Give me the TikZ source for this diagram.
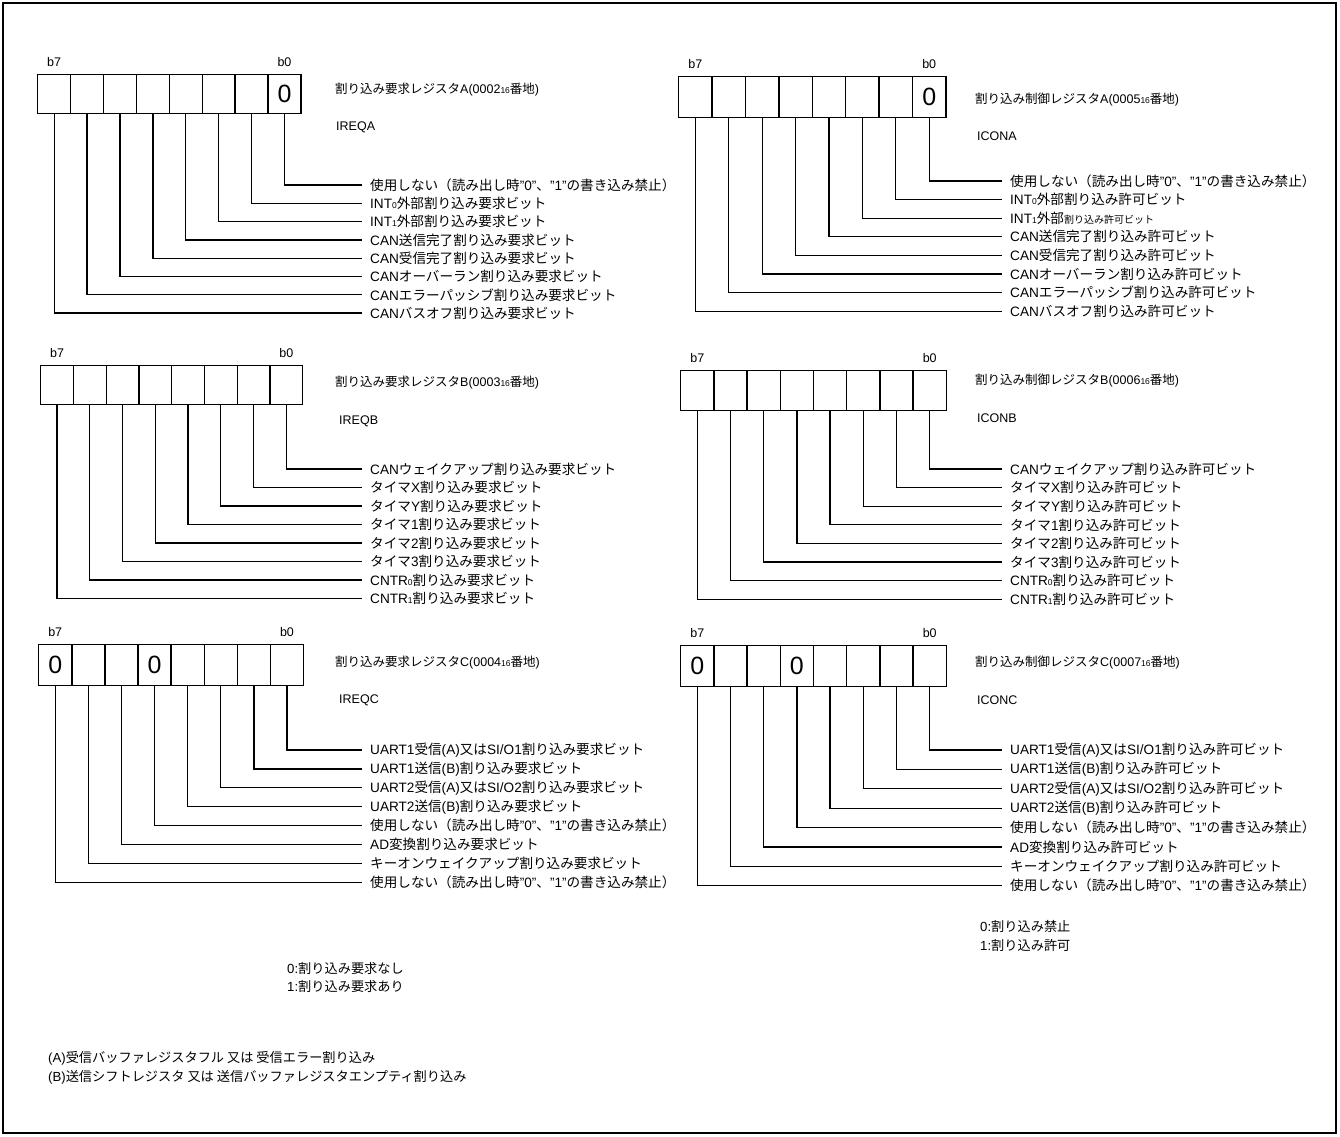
\documentclass[tikz,border=0pt]{standalone}
\usepackage{fontspec}
\setmainfont{Liberation Sans}
\newfontfamily\jpfont{Noto Sans CJK JP}
\newXeTeXintercharclass\jpclass
\newcount\jpc
\newcommand\jprange[2]{\jpc=#1\relax\loop\XeTeXcharclass\jpc=\jpclass\relax\ifnum\jpc<#2\relax\advance\jpc by 1\relax\repeat}
\jprange{"3000}{"30FF}
\jprange{"4E00}{"9FFF}
\jprange{"FF00}{"FFEF}
\XeTeXinterchartoks 0 \jpclass = {\jpfont}
\XeTeXinterchartoks 4095 \jpclass = {\jpfont}
\XeTeXinterchartoks \jpclass 0 = {\rmfamily}
\XeTeXinterchartokenstate=1
\newcommand\smalld[1]{{\fontsize{8.5}{8.5}\selectfont #1}}
\def\celltn{}
\def\celltz{0}
\tikzset{
  cell/.style={draw, line width=1.4pt, inner sep=0pt, font=\fontsize{25}{25}\selectfont},
  bitlab/.style={inner sep=0pt, font=\fontsize{12.5}{14}\selectfont},
  lab/.style={anchor=west, inner xsep=8pt, inner ysep=0pt, font=\fontsize{13.6}{15}\selectfont},
  regtitle/.style={anchor=west, inner sep=0pt, font=\fontsize{12.5}{15}\selectfont},
  note/.style={anchor=west, inner sep=0pt, font=\fontsize{13.2}{15}\selectfont},
  conn/.style={line width=1.3pt}
}
\newcommand\register[6]{%
  \foreach \t [count=\i from 0] in {#6} {
    \node[cell, minimum width=#4pt, minimum height=#5pt, anchor=north west] (#1c\i) at ({#2+\i*#4},#3) {\csname cellt\t\endcsname};
  }
  \node[bitlab] (#1b7) at ([yshift=12pt]#1c0.north) {b7};
  \node[bitlab] (#1b0) at ([yshift=12pt]#1c7.north) {b0};
}
\newcommand\leads[5]{%
  \foreach \t [count=\k from 0] in {#5} {
    \pgfmathtruncatemacro\j{7-\k}
    \node[lab] (#1l\k) at ({#2},{#3+\k*#4}) {\t};
    \draw[conn] (#1c\j.south) |- (#1l\k.west);
  }
}
\begin{document}
\begin{tikzpicture}[x=1pt,y=-1pt]
\useasboundingbox (0,0) rectangle (1340,1136);
\draw[line width=1.5pt] (3,3) rectangle (1336,1133);

% ---------- Register A ----------
\register{LA}{37}{74}{32.9}{39}{n,n,n,n,n,n,n,z}
\node[regtitle] (LAt) at (335,90) {割り込み要求レジスタA(0002\smalld{16}番地)};
\node[regtitle] (LAn) at (336,127) {IREQA};
\leads{LA}{362}{185}{18.3}{{使用しない（読み出し時"0"、"1"の書き込み禁止）},
 {INT\smalld{0}外部割り込み要求ビット},
 {INT\smalld{1}外部割り込み要求ビット},
 {CAN送信完了割り込み要求ビット},
 {CAN受信完了割り込み要求ビット},
 {CANオーバーラン割り込み要求ビット},
 {CANエラーパッシブ割り込み要求ビット},
 {CANバスオフ割り込み要求ビット}}

\register{RA}{678}{76}{33.4}{41}{n,n,n,n,n,n,n,z}
\node[regtitle] (RAt) at (975,100) {割り込み制御レジスタA(0005\smalld{16}番地)};
\node[regtitle] (RAn) at (977,136) {ICONA};
\leads{RA}{1002}{181}{18.6}{{使用しない（読み出し時"0"、"1"の書き込み禁止）},
 {INT\smalld{0}外部割り込み許可ビット},
 {INT\smalld{1}外部{\fontsize{10}{10}\selectfont 割り込み許可ビット}},
 {CAN送信完了割り込み許可ビット},
 {CAN受信完了割り込み許可ビット},
 {CANオーバーラン割り込み許可ビット},
 {CANエラーパッシブ割り込み許可ビット},
 {CANバスオフ割り込み許可ビット}}

% ---------- Register B ----------
\register{LB}{40}{365}{32.75}{39}{n,n,n,n,n,n,n,n}
\node[regtitle] (LBt) at (335,383) {割り込み要求レジスタB(0003\smalld{16}番地)};
\node[regtitle] (LBn) at (339,421) {IREQB};
\leads{LB}{362}{469}{18.5}{{CANウェイクアップ割り込み要求ビット},
 {タイマX割り込み要求ビット},
 {タイマY割り込み要求ビット},
 {タイマ1割り込み要求ビット},
 {タイマ2割り込み要求ビット},
 {タイマ3割り込み要求ビット},
 {CNTR\smalld{0}割り込み要求ビット},
 {CNTR\smalld{1}割り込み要求ビット}}

\register{RB}{680}{370}{33.2}{40}{n,n,n,n,n,n,n,n}
\node[regtitle] (RBt) at (975,381) {割り込み制御レジスタB(0006\smalld{16}番地)};
\node[regtitle] (RBn) at (977,418) {ICONB};
\leads{RB}{1002}{469}{18.6}{{CANウェイクアップ割り込み許可ビット},
 {タイマX割り込み許可ビット},
 {タイマY割り込み許可ビット},
 {タイマ1割り込み許可ビット},
 {タイマ2割り込み許可ビット},
 {タイマ3割り込み許可ビット},
 {CNTR\smalld{0}割り込み許可ビット},
 {CNTR\smalld{1}割り込み許可ビット}}

% ---------- Register C ----------
\register{LC}{38}{644}{33.1}{41}{z,n,n,z,n,n,n,n}
\node[regtitle] (LCt) at (335,663) {割り込み要求レジスタC(0004\smalld{16}番地)};
\node[regtitle] (LCn) at (339,700) {IREQC};
\leads{LC}{362}{750}{18.9}{{UART1受信(A)又はSI/O1割り込み要求ビット},
 {UART1送信(B)割り込み要求ビット},
 {UART2受信(A)又はSI/O2割り込み要求ビット},
 {UART2送信(B)割り込み要求ビット},
 {使用しない（読み出し時"0"、"1"の書き込み禁止）},
 {AD変換割り込み要求ビット},
 {キーオンウェイクアップ割り込み要求ビット},
 {使用しない（読み出し時"0"、"1"の書き込み禁止）}}

\register{RC}{680}{645}{33.2}{41}{z,n,n,z,n,n,n,n}
\node[regtitle] (RCt) at (975,663) {割り込み制御レジスタC(0007\smalld{16}番地)};
\node[regtitle] (RCn) at (977,700) {ICONC};
\leads{RC}{1002}{750}{19.4}{{UART1受信(A)又はSI/O1割り込み許可ビット},
 {UART1送信(B)割り込み許可ビット},
 {UART2受信(A)又はSI/O2割り込み許可ビット},
 {UART2送信(B)割り込み許可ビット},
 {使用しない（読み出し時"0"、"1"の書き込み禁止）},
 {AD変換割り込み許可ビット},
 {キーオンウェイクアップ割り込み許可ビット},
 {使用しない（読み出し時"0"、"1"の書き込み禁止）}}

% ---------- Legends and notes ----------
\node[note] (lg1) at (287,968) {0:割り込み要求なし};
\node[note] (lg2) at (287,986) {1:割り込み要求あり};
\node[note] (lg3) at (980,926) {0:割り込み禁止};
\node[note] (lg4) at (980,945) {1:割り込み許可};
\node[note] (fnA) at (48,1058) {(A)受信バッファレジスタフル 又は 受信エラー割り込み};
\node[note] (fnB) at (48,1077) {(B)送信シフトレジスタ 又は 送信バッファレジスタエンプティ割り込み};
\end{tikzpicture}
\end{document}
